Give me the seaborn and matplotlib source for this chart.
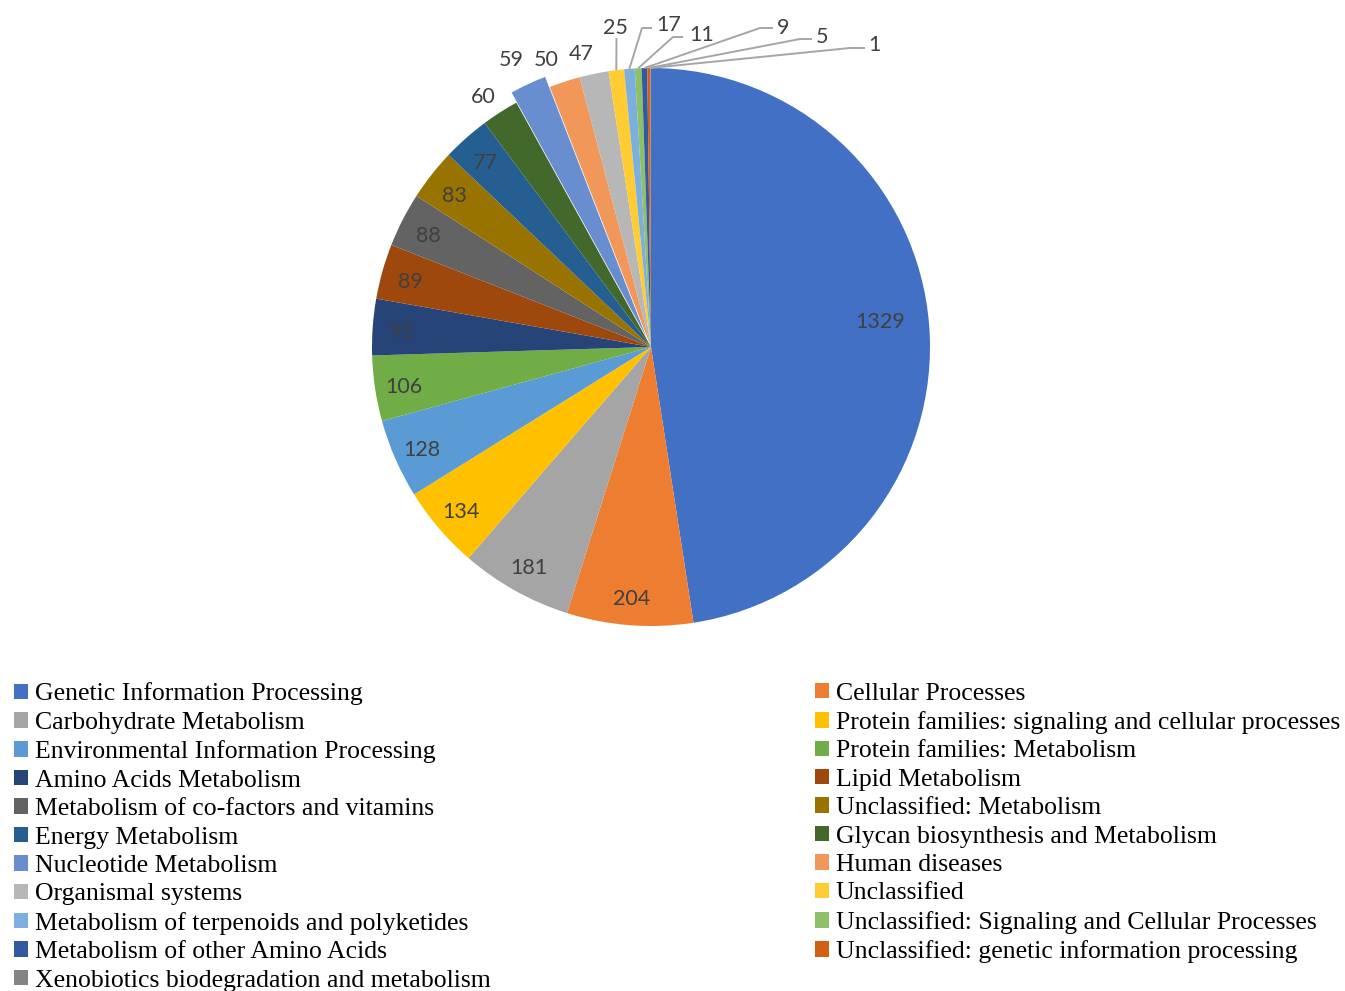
import matplotlib
matplotlib.use("Agg")
import matplotlib.pyplot as plt
import matplotlib.transforms as mtransforms
import seaborn as sns
import numpy as np
from matplotlib.patches import Patch

# ---------------- data ----------------
categories = [
    "Genetic Information Processing",
    "Cellular Processes",
    "Carbohydrate Metabolism",
    "Protein families: signaling and cellular processes",
    "Environmental Information Processing",
    "Protein families: Metabolism",
    "Amino Acids Metabolism",
    "Lipid Metabolism",
    "Metabolism of co-factors and vitamins",
    "Unclassified: Metabolism",
    "Energy Metabolism",
    "Glycan biosynthesis and Metabolism",
    "Nucleotide Metabolism",
    "Human diseases",
    "Organismal systems",
    "Unclassified",
    "Metabolism of terpenoids and polyketides",
    "Unclassified: Signaling and Cellular Processes",
    "Metabolism of other Amino Acids",
    "Unclassified: genetic information processing",
    "Xenobiotics biodegradation and metabolism",
]
values = [1329, 204, 181, 134, 128, 106, 91, 89, 88, 83, 77,
          60, 59, 50, 47, 25, 17, 11, 9, 5, 1]
colors_hex = [
    "#4270C4", "#ED7D31", "#A5A5A5", "#FFC000", "#5B9BD5", "#70AD47",
    "#264478", "#9E480E", "#636363", "#997300", "#255E91", "#43682B",
    "#698ED0", "#F1975A", "#B7B7B7", "#FFCD33", "#7CAFDD", "#8CC168",
    "#335AA1", "#D26012", "#848484",
]
exploded_category = "Nucleotide Metabolism"

# ---------------- style ----------------
sns.set_theme(style="white")
plt.rcParams['font.family'] = ['Lato', 'DejaVu Sans']

W, H = 1345, 991
fig = plt.figure(figsize=(W / 100, H / 100), dpi=100)
fig.patch.set_facecolor("white")

cx, cy, R = 651, 347, 279
ax = fig.add_axes([(cx - R) / W, (H - cy - R) / H, 2 * R / W, 2 * R / H])

palette = sns.color_palette(colors_hex)
explode = [0.04 if c == exploded_category else 0.0 for c in categories]
wedges, _ = ax.pie(values, colors=palette, startangle=90, counterclock=False,
                   explode=explode, radius=1.0,
                   wedgeprops=dict(linewidth=0))
ax.set_xlim(-1, 1)
ax.set_ylim(-1, 1)
ax.set_aspect('auto')
ax.axis('off')

label_color = "#404040"
label_fs = 15.5
# digits sit visually above the bbox centre: nudge down a little
txt_trans = mtransforms.offset_copy(ax.transData, fig=fig, x=0, y=-3, units='dots')


def px2d(px, py):
    return (px - cx) / R, (cy - py) / R


# inside labels: radius (relative to wedge centre) and small angle tweak
inside_r = [0.827] + [0.895] * 10
inside_dang = [2.6] + [0.0] * 10
for i in range(11):
    w = wedges[i]
    mid = np.deg2rad((w.theta1 + w.theta2) / 2 + inside_dang[i])
    ox, oy = w.center
    r = inside_r[i]
    ax.text(ox + r * np.cos(mid), oy + r * np.sin(mid), str(values[i]),
            ha='center', va='center', fontsize=label_fs, color=label_color,
            clip_on=False, transform=txt_trans)

# outside labels without leader lines (layout in pixel space)
outside_layout = {11: (483, 94), 12: (511, 57), 13: (546, 57), 14: (581, 51)}
for i, (px, py) in outside_layout.items():
    tx, ty = px2d(px, py)
    ax.text(tx, ty, str(values[i]), ha='center', va='center',
            fontsize=label_fs, color=label_color, clip_on=False,
            transform=txt_trans)

# leader-line labels for the smallest slices (layout in pixel space)
leader_layout = {
    15: dict(elbow=(616.5, 38), end=None, text=(615, 25), ha='center'),
    16: dict(elbow=(642, 28), end=(652, 28), text=(656, 22), ha='left'),
    17: dict(elbow=(673, 37), end=(683, 37), text=(689, 32), ha='left'),
    18: dict(elbow=(760, 28), end=(773, 28), text=(777, 25), ha='left'),
    19: dict(elbow=(800, 39), end=(812, 39), text=(816, 34), ha='left'),
    20: dict(elbow=(850, 48), end=(865, 48), text=(868, 42), ha='left'),
}
for i, lay in leader_layout.items():
    w = wedges[i]
    mid = np.deg2rad((w.theta1 + w.theta2) / 2)
    rx, ry = np.cos(mid), np.sin(mid)
    ex, ey = px2d(*lay['elbow'])
    xs, ys = [rx, ex], [ry, ey]
    if lay['end'] is not None:
        nx, ny = px2d(*lay['end'])
        xs.append(nx)
        ys.append(ny)
    ax.plot(xs, ys, color="#A6A6A6", lw=1.4, clip_on=False,
            solid_capstyle='butt')
    tx, ty = px2d(*lay['text'])
    ax.text(tx, ty, str(values[i]), ha=lay['ha'], va='center',
            fontsize=label_fs, color=label_color, clip_on=False,
            transform=txt_trans)

# ---------------- legends (two columns, row-major order) ----------------
handles = [Patch(facecolor=palette[i], edgecolor='none') for i in range(len(categories))]
left_idx = list(range(0, len(categories), 2))
right_idx = list(range(1, len(categories), 2))

leg_fs = 18.5
leg_kw = dict(loc='upper left', frameon=False, borderpad=0, borderaxespad=0,
              prop={'family': ['Liberation Serif', 'DejaVu Serif'], 'size': leg_fs},
              handlelength=0.55, handleheight=0.55, handletextpad=0.26,
              labelspacing=0.25, labelcolor='black')
top = (H - 682.5) / H
leg1 = fig.legend([handles[i] for i in left_idx], [categories[i] for i in left_idx],
                  bbox_to_anchor=(14 / W, top), **leg_kw)
leg2 = fig.legend([handles[i] for i in right_idx], [categories[i] for i in right_idx],
                  bbox_to_anchor=(815 / W, top), **leg_kw)

fig.savefig("out.png", dpi=100, facecolor="white")
